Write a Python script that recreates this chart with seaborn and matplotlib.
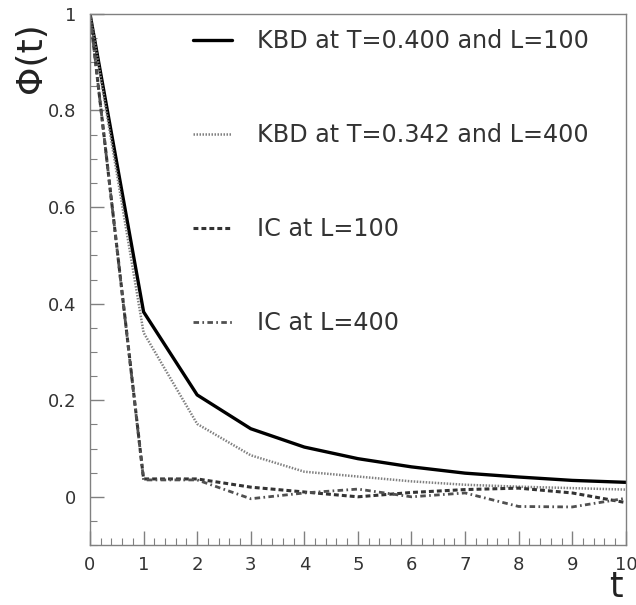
# Autocorrelation decay: KBD vs IC
import pandas as pd
import numpy as np
import matplotlib.pyplot as plt
import seaborn as sns
from matplotlib.ticker import MultipleLocator

# data
t = [0, 1, 2, 3, 4, 5, 6, 7, 8, 9, 10]
kbd_100 = [1.0, 0.383, 0.211, 0.141, 0.103, 0.079, 0.062, 0.049, 0.041, 0.034, 0.030]
kbd_400 = [1.0, 0.340, 0.151, 0.086, 0.052, 0.042, 0.032, 0.025, 0.021, 0.018, 0.015]
ic_100 = [1.0, 0.037, 0.037, 0.020, 0.010, 0.000, 0.009, 0.015, 0.018, 0.008, -0.012]
ic_400 = [1.0, 0.035, 0.035, -0.004, 0.008, 0.016, 0.000, 0.008, -0.020, -0.021, -0.003]

labels = [
    "KBD at T=0.400 and L=100",
    "KBD at T=0.342 and L=400",
    "IC at L=100",
    "IC at L=400",
]
ytick_vals = [0, 0.2, 0.4, 0.6, 0.8, 1]
ytick_labels = ["0", "0.2", "0.4", "0.6", "0.8", "1"]

sns.set_style("white")

fig = plt.figure(figsize=(6.36, 6.05), dpi=100)
ax = fig.add_axes([0.1415, 0.099, 0.8425, 0.878])

sns.lineplot(x=t, y=kbd_100, ax=ax, color="black", linewidth=2.4, label=labels[0])
sns.lineplot(x=t, y=kbd_400, ax=ax, color="#808080", linewidth=1.8, label=labels[1])
sns.lineplot(x=t, y=ic_100, ax=ax, color="#333333", linewidth=2.2, label=labels[2])
sns.lineplot(x=t, y=ic_400, ax=ax, color="#505050", linewidth=2.0, label=labels[3])

lines = ax.get_lines()
lines[1].set_linestyle((0, (0.6, 0.6)))
lines[2].set_linestyle((0, (1.6, 1.0)))
lines[3].set_linestyle((0, (2.0, 1.2, 0.6, 1.2)))

ax.set_xlim(0, 10)
ax.set_ylim(-0.1, 1.0)

ax.xaxis.set_major_locator(MultipleLocator(1))
ax.xaxis.set_minor_locator(MultipleLocator(0.2))
ax.set_yticks(ytick_vals)
ax.set_yticklabels(ytick_labels)
ax.yaxis.set_minor_locator(MultipleLocator(0.05))

ax.tick_params(axis="both", which="both", direction="in", color="#808080",
               bottom=True, left=True, top=False, right=False,
               labelsize=13, labelcolor="#333333")
ax.tick_params(axis="x", which="major", length=10, width=1, pad=8)
ax.tick_params(axis="x", which="minor", length=5, width=0.8)
ax.tick_params(axis="y", which="major", length=10, width=1, pad=10)
ax.tick_params(axis="y", which="minor", length=5, width=0.8)

for s in ax.spines.values():
    s.set_color("#808080")
    s.set_linewidth(1.0)

ax.set_xlabel("")
ax.set_ylabel("")
fig.text(0.048, 0.905, "\u03a6(t)", rotation=90, fontsize=26, ha="center", va="center",
         color="#222222")
fig.text(0.968, 0.03, "t", fontsize=25, ha="center", va="center", color="#222222")

leg = ax.legend(loc="upper left", bbox_to_anchor=(0.153, 1.012), frameon=False,
                fontsize=17.2, labelspacing=2.93, handlelength=1.6, handletextpad=1.05,
                labelcolor="#333333")

plt.savefig("out.png", dpi=100)
